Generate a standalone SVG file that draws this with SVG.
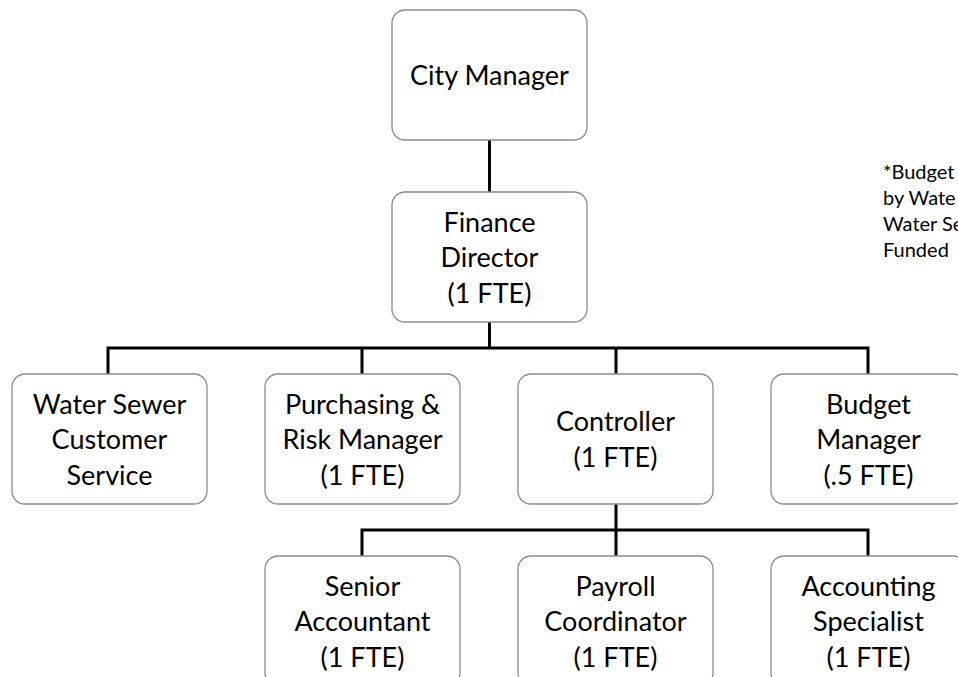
<svg xmlns="http://www.w3.org/2000/svg" width="958" height="677" viewBox="0 0 958 677">
<style>
.box{fill:#ffffff;stroke:#8c8c8c;stroke-width:1.3}
.t{font-family:Lato,"Liberation Sans",sans-serif;font-size:27px;fill:#000;text-anchor:middle}
.note{font-family:Lato,"Liberation Sans",sans-serif;font-size:20px;fill:#000}
.c{fill:none;stroke:#000;stroke-width:3}
</style>
<rect width="958" height="677" fill="#ffffff"/>
<g id="connectors">
<path class="c" d="M489.5 140V192"/>
<path class="c" d="M489.5 322V348M108 348H868M108 346.5V374M362 346.5V374M616 346.5V374M868 346.5V374"/>
<path class="c" d="M616 504V530M362 530H868M362 528.5V556M616 528.5V556M868 528.5V556"/>
</g>
<g id="city-manager">
<rect class="box" x="392" y="10" width="195" height="130" rx="13"/>
<text class="t" x="489.5" y="85">City Manager</text>
</g>
<g id="finance-director">
<rect class="box" x="392" y="192" width="195" height="130" rx="13"/>
<text class="t" x="489.5" y="231.5">Finance</text>
<text class="t" x="489.5" y="267">Director</text>
<text class="t" x="489.5" y="302.5">(1 FTE)</text>
</g>
<g id="water-sewer">
<rect class="box" x="12" y="374" width="195" height="130" rx="13"/>
<text class="t" x="109.5" y="413.5">Water Sewer</text>
<text class="t" x="109.5" y="449">Customer</text>
<text class="t" x="109.5" y="484.5">Service</text>
</g>
<g id="purchasing">
<rect class="box" x="265" y="374" width="195" height="130" rx="13"/>
<text class="t" x="362.5" y="413.5">Purchasing &amp;</text>
<text class="t" x="362.5" y="449">Risk Manager</text>
<text class="t" x="362.5" y="484.5">(1 FTE)</text>
</g>
<g id="controller">
<rect class="box" x="518" y="374" width="195" height="130" rx="13"/>
<text class="t" x="615.5" y="431">Controller</text>
<text class="t" x="615.5" y="466.5">(1 FTE)</text>
</g>
<g id="budget-manager">
<rect class="box" x="771" y="374" width="195" height="130" rx="13"/>
<text class="t" x="868.5" y="413.5">Budget</text>
<text class="t" x="868.5" y="449">Manager</text>
<text class="t" x="868.5" y="484.5">(.5 FTE)</text>
</g>
<g id="senior-accountant">
<rect class="box" x="265" y="556" width="195" height="130" rx="13"/>
<text class="t" x="362.5" y="595.5">Senior</text>
<text class="t" x="362.5" y="631">Accountant</text>
<text class="t" x="362.5" y="666.5">(1 FTE)</text>
</g>
<g id="payroll-coordinator">
<rect class="box" x="518" y="556" width="195" height="130" rx="13"/>
<text class="t" x="615.5" y="595.5">Payroll</text>
<text class="t" x="615.5" y="631">Coordinator</text>
<text class="t" x="615.5" y="666.5">(1 FTE)</text>
</g>
<g id="accounting-specialist">
<rect class="box" x="771" y="556" width="195" height="130" rx="13"/>
<text class="t" x="868.5" y="595.5">Accounting</text>
<text class="t" x="868.5" y="631">Specialist</text>
<text class="t" x="868.5" y="666.5">(1 FTE)</text>
</g>
<g id="note">
<text class="note" x="883" y="179">*Budget</text>
<text class="note" x="883" y="205">by Wate</text>
<text class="note" x="883" y="231">Water Se</text>
<text class="note" x="883" y="257">Funded</text>
</g>
</svg>
